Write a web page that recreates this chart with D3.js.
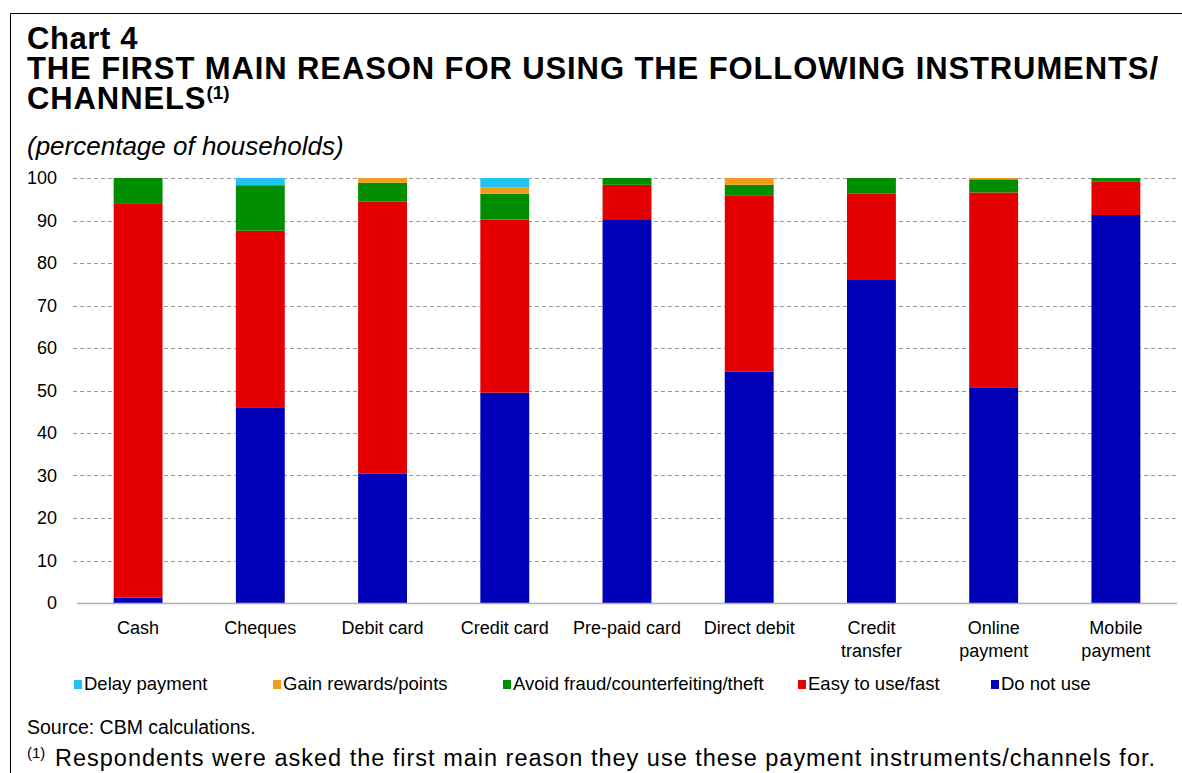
<!DOCTYPE html>
<html>
<head>
<meta charset="utf-8">
<script src="https://cdn.jsdelivr.net/npm/d3@7"></script>
<style>
  html, body { margin: 0; padding: 0; background: #fff; }
  svg { display: block; font-family: "Liberation Sans", Arial, sans-serif; }
</style>
</head>
<body>
<svg id="chart" width="1182" height="773"></svg>
<script>
// ---- data ----
const categories = ["Cash", "Cheques", "Debit card", "Credit card", "Pre-paid card", "Direct debit", "Credit transfer", "Online payment", "Mobile payment"];
const categoryLines = [["Cash"], ["Cheques"], ["Debit card"], ["Credit card"], ["Pre-paid card"], ["Direct debit"], ["Credit", "transfer"], ["Online", "payment"], ["Mobile", "payment"]];
const seriesNames = ["Do not use", "Easy to use/fast", "Avoid fraud/counterfeiting/theft", "Gain rewards/points", "Delay payment"];
const doNotUse   = [1.3, 45.9, 30.4, 49.5, 90.3, 54.4, 76.0, 50.6, 91.3];
const easyToUse  = [92.6, 41.7, 64.1, 40.7, 8.1, 41.4, 20.4, 46.0, 7.8];
const avoidFraud = [6.1, 10.7, 4.4, 6.1, 1.6, 2.6, 3.6, 3.1, 0.9];
const gainRewards = [0, 0, 1.1, 1.5, 0, 1.6, 0, 0.3, 0];
const delayPayment = [0, 1.7, 0, 2.2, 0, 0, 0, 0, 0];
const yTicks = [0, 10, 20, 30, 40, 50, 60, 70, 80, 90, 100];
const legendOrder = ["Delay payment", "Gain rewards/points", "Avoid fraud/counterfeiting/theft", "Easy to use/fast", "Do not use"];

const colors = {
  "Do not use": "#0000B8",
  "Easy to use/fast": "#E40000",
  "Avoid fraud/counterfeiting/theft": "#008E00",
  "Gain rewards/points": "#F59B1C",
  "Delay payment": "#22C1EF"
};

const seriesValues = [doNotUse, easyToUse, avoidFraud, gainRewards, delayPayment];
const table = categories.map((c, i) => {
  const row = { category: c };
  seriesNames.forEach((s, k) => row[s] = seriesValues[k][i]);
  return row;
});

const svg = d3.select("#chart");
const font = "'Liberation Sans', Arial, sans-serif";

// frame
svg.append("path")
  .attr("d", "M10.5,773 L10.5,13.5 L1182,13.5")
  .attr("fill", "none").attr("stroke", "#000").attr("stroke-width", 1);

// titles
const title = svg.append("g").attr("font-weight", "bold").attr("font-size", 31).attr("fill", "#000");
title.append("text").attr("x", 27).attr("y", 49).attr("letter-spacing", 0.6).text("Chart 4");
title.append("text").attr("x", 27).attr("y", 79)
  .attr("textLength", 1131).attr("lengthAdjust", "spacing")
  .text("THE FIRST MAIN REASON FOR USING THE FOLLOWING INSTRUMENTS/");
const t3 = title.append("text").attr("x", 27).attr("y", 109).attr("letter-spacing", 0.9);
t3.append("tspan").text("CHANNELS");
t3.append("tspan").attr("font-size", 19).attr("dy", -10).attr("letter-spacing", 0).text("(1)");
svg.append("text").attr("x", 27).attr("y", 155).attr("font-style", "italic").attr("font-size", 26)
  .text("(percentage of households)");

// scales
const x = d3.scaleBand().domain(categories).range([77, 1177]).paddingInner(0.6).paddingOuter(0.3);
const y = d3.scaleLinear().domain([0, 100]).range([603, 178]);

// gridlines
svg.append("g").selectAll("line").data(yTicks.filter(d => d > 0)).join("line")
  .attr("x1", 73).attr("x2", 1177)
  .attr("y1", d => Math.round(y(d)) + 0.5).attr("y2", d => Math.round(y(d)) + 0.5)
  .attr("stroke", "#9a9a9a").attr("stroke-width", 1).attr("stroke-dasharray", "4,3");

// y axis
const yAxis = svg.append("g").attr("transform", "translate(57,0)")
  .call(d3.axisLeft(y).tickValues(yTicks).tickSize(0).tickPadding(0));
yAxis.select(".domain").remove();
yAxis.selectAll("text").attr("font-family", font).attr("font-size", 18).attr("fill", "#000");

// stacked bars
const stack = d3.stack().keys(seriesNames)(table);
svg.append("g").selectAll("g").data(stack).join("g")
  .attr("fill", d => colors[d.key])
  .selectAll("rect").data(d => d).join("rect")
  .attr("x", d => x(d.data.category))
  .attr("width", x.bandwidth())
  .attr("y", d => y(d[1]))
  .attr("height", d => Math.max(0, y(d[0]) - y(d[1])));

// x axis
const xAxis = svg.append("g").attr("transform", "translate(0,603)")
  .call(d3.axisBottom(x).tickSize(0).tickPadding(0).tickFormat(() => ""));
xAxis.select(".domain").attr("stroke", "#b0b0b0").attr("stroke-width", 1.5)
  .attr("d", "M77,0.5H1177");
xAxis.selectAll(".tick text").remove();
xAxis.selectAll(".tick").each(function (d, i) {
  const t = d3.select(this).append("text")
    .attr("text-anchor", "middle").attr("font-family", font).attr("font-size", 18).attr("fill", "#000");
  categoryLines[i].forEach((line, j) => {
    t.append("tspan").attr("x", 0).attr("y", 31 + j * 23).text(line);
  });
});

// legend
const legendX = [74, 273, 503, 798, 991];
const legend = svg.append("g").selectAll("g").data(legendOrder).join("g")
  .attr("transform", (d, i) => `translate(${legendX[i]},690)`);
legend.append("rect").attr("x", 0).attr("y", -10).attr("width", 8).attr("height", 9)
  .attr("fill", d => colors[d]);
legend.append("text").attr("x", 10).attr("y", 0).attr("font-size", 18.5).attr("fill", "#000").text(d => d);

// source & footnote
svg.append("text").attr("x", 27).attr("y", 734).attr("font-size", 19.5).text("Source: CBM calculations.");
svg.append("text").attr("x", 27).attr("y", 758).attr("font-size", 15).text("(1)");
svg.append("text").attr("x", 55).attr("y", 766).attr("font-size", 23.5)
  .attr("textLength", 1100).attr("lengthAdjust", "spacing")
  .text("Respondents were asked the first main reason they use these payment instruments/channels for.");
</script>
</body>
</html>
